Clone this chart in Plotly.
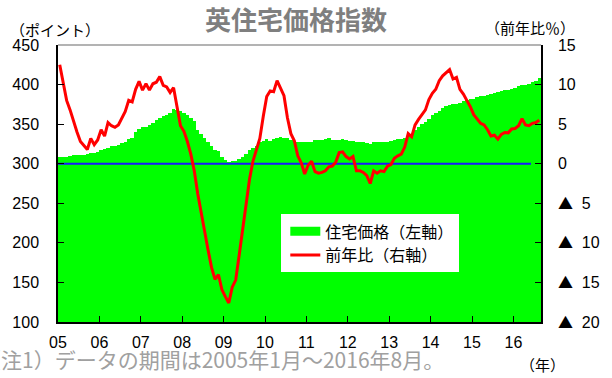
import plotly.graph_objects as go

# Monthly data, 2005-01 .. 2016-08 (140 months)
house_price_index = [
    308, 309, 309, 310, 311, 311, 311, 311, 312, 314,
    314, 315, 317, 318, 320, 322, 322, 324, 326, 327,
    331, 333, 340, 344, 346, 347, 349, 352, 355, 358,
    360, 362, 364, 369, 368, 366, 364, 362, 358, 354,
    343, 338, 332, 327, 322, 317, 316, 308, 305, 302,
    303, 304, 306, 308, 312, 317, 320, 322, 327, 329,
    331, 329, 331, 333, 334, 333, 332, 330, 328, 327,
    327, 327, 327, 328, 330, 330, 330, 331, 332, 330,
    330, 330, 331, 330, 329, 329, 328, 327, 327, 326,
    325, 327, 327, 328, 328, 328, 329, 330, 331, 331,
    333, 335, 338, 342, 346, 350, 353, 357, 361, 364,
    367, 370, 373, 374, 375, 376, 377, 379, 380, 382,
    382, 384, 385, 386, 387, 388, 389, 391, 392, 393,
    393, 395, 396, 398, 399, 400, 401, 403, 405, 408,
]

yoy_change = [
    12.5, 10.4, 8.0, 6.8, 5.3, 4.0, 2.8, 2.3, 1.8, 3.2,
    2.4, 3.0, 4.3, 3.5, 5.2, 4.8, 4.6, 4.9, 5.7, 6.6,
    8.0, 7.8, 9.4, 10.4, 9.3, 10.1, 9.3, 10.1, 10.3, 11.0,
    9.9, 9.7, 9.0, 9.6, 7.2, 4.8, 4.1, 2.8, 1.2, -0.9,
    -3.8, -6.3, -8.4, -10.9, -13.1, -14.6, -14.0, -15.9, -16.8, -17.6,
    -15.6, -14.7, -11.6, -8.6, -5.0, -2.0, 0.3, 1.9, 3.2, 6.0,
    8.5, 9.2, 9.1, 10.5, 9.6, 8.6, 5.8, 3.8, 2.9, 1.0,
    0.1, -1.3, -0.2, 0.3, -1.0, -1.2, -1.1, -0.9, -0.4, -0.3,
    0.2, 1.4, 1.5, 0.9, 0.6, 0.9, -0.9, -0.9, -1.1, -1.5,
    -2.5, -0.9, -1.2, -0.9, -1.0, -0.3, -0.1, 0.7, 1.0, 1.2,
    2.1, 3.8, 3.4, 4.9, 5.6, 6.2, 6.8, 8.1, 8.9, 9.4,
    10.5, 11.1, 11.5, 11.9, 10.7, 10.9, 9.4, 8.8, 8.0, 7.2,
    6.2, 5.6, 5.1, 4.9, 4.3, 3.5, 3.6, 3.1, 3.7, 3.95,
    3.9, 4.4, 4.45, 4.8, 5.7, 4.9, 4.8, 5.1, 5.2, 5.5,
]

year_labels = ["05", "06", "07", "08", "09", "10", "11", "12", "13", "14", "15", "16"]
left_ticks = [100, 150, 200, 250, 300, 350, 400, 450]
right_tickvals = [-20, -15, -10, -5, 0, 5, 10, 15]
right_ticklabels = ["▲ 20", "▲ 15", "▲ 10", "▲ 5", "0", "5", "10", "15"]
zero_level = [0, 0]

months = list(range(len(house_price_index)))
year_pos = [12 * k - 0.5 for k in range(len(year_labels))]

NUM_FONT = "Liberation Sans, Arial, sans-serif"
JP_FONT = "Noto Sans CJK JP, sans-serif"


def fmt_right(lbl):
    if lbl.startswith("▲"):
        num = lbl.replace("▲", "").strip()
        return ("<span style='font-family:Noto Sans CJK JP;font-size:15px'>▲</span>"
                "\u00a0\u00a0" + num)
    return lbl


right_ticktext = [fmt_right(t) for t in right_ticklabels]

fig = go.Figure()

fig.add_trace(go.Bar(
    x=months, y=house_price_index, name="住宅価格（左軸）",
    marker=dict(color="#00FF00", line=dict(width=0)),
    yaxis="y", showlegend=False, legendgroup="hpi",
))

# legend entry for the bar series (wide swatch like the original)
fig.add_trace(go.Scatter(
    x=[None], y=[None], name="住宅価格（左軸）", mode="lines",
    line=dict(color="#00FF00", width=9), legendgroup="hpi",
    yaxis="y",
))

fig.add_trace(go.Scatter(
    x=[-0.5, months[-1] - 2.4], y=zero_level, mode="lines",
    line=dict(color="#1a1aff", width=2), showlegend=False,
    yaxis="y2", hoverinfo="skip",
))

fig.add_trace(go.Scatter(
    x=months, y=yoy_change, name="前年比（右軸）", mode="lines",
    line=dict(color="#FF0000", width=3),
    yaxis="y2",
))

fig.update_layout(
    width=612, height=378,
    margin=dict(l=55, r=66, t=45, b=56),
    paper_bgcolor="white", plot_bgcolor="white",
    bargap=0,
    showlegend=True,
    legend=dict(
        x=(282 - 55) / 491, y=(322 - 214) / 278, xanchor="left", yanchor="top",
        bgcolor="white", borderwidth=0,
        font=dict(family=JP_FONT, size=16, color="black"),
        tracegroupgap=0, indentation=4, entrywidth=140,
    ),
    xaxis=dict(
        range=[-0.5, len(months) - 0.5],
        tickmode="array", tickvals=year_pos, ticktext=year_labels,
        ticks="inside", ticklen=6, tickcolor="black",
        showline=True, linecolor="black", linewidth=1.5,
        showgrid=False, zeroline=False,
        tickfont=dict(family=NUM_FONT, size=16, color="black"),
        ticklabelstandoff=5,
    ),
    yaxis=dict(
        range=[100, 450], tickmode="array", tickvals=left_ticks,
        ticks="inside", ticklen=6, tickcolor="black",
        showline=True, linecolor="black", linewidth=1.5,
        showgrid=False, zeroline=False,
        tickfont=dict(family=NUM_FONT, size=16, color="black"),
        ticklabelstandoff=14,
    ),
    yaxis2=dict(
        range=[-20, 15], overlaying="y", side="right",
        tickmode="array", tickvals=right_tickvals, ticktext=right_ticktext,
        ticks="inside", ticklen=6, tickcolor="black",
        showline=True, linecolor="black", linewidth=1.5,
        showgrid=False, zeroline=False,
        tickfont=dict(family=NUM_FONT, size=16, color="black"),
        ticklabelstandoff=12,
    ),
    shapes=[dict(
        type="line", xref="paper", yref="paper", x0=0, x1=1, y0=1, y1=1,
        line=dict(color="#9a9a9a", width=1.5),
    )],
    annotations=[
        dict(text="<b>英住宅価格指数</b>", xref="paper", yref="paper",
             x=(297 - 55) / 491, y=1 + (45 - 18) / 278, xanchor="center", yanchor="middle",
             showarrow=False, font=dict(family=JP_FONT, size=26, color="#7f7f7f")),
        dict(text="（ポイント）", xref="paper", yref="paper",
             x=(4 - 55) / 491, y=1 + (45 - 29) / 278, xanchor="left", yanchor="middle",
             showarrow=False, font=dict(family=JP_FONT, size=15, color="black")),
        dict(text="（前年比％）", xref="paper", yref="paper",
             x=(583 - 55) / 491, y=1 + (45 - 27) / 278, xanchor="right", yanchor="middle",
             showarrow=False, font=dict(family=JP_FONT, size=15, color="black")),
        dict(text="（年）", xref="paper", yref="paper",
             x=(548 - 55) / 491, y=-(365 - 322) / 278, xanchor="center", yanchor="middle",
             showarrow=False, font=dict(family=JP_FONT, size=15, color="black")),
        dict(text="（注1）データの期間は2005年1月～2016年8月。", xref="paper", yref="paper",
             x=(-26 - 55) / 491, y=-(359 - 322) / 278, xanchor="left", yanchor="middle",
             showarrow=False, font=dict(family=JP_FONT, size=21, color="#a0a0a0")),
    ],
)

fig.write_html("out.html")
